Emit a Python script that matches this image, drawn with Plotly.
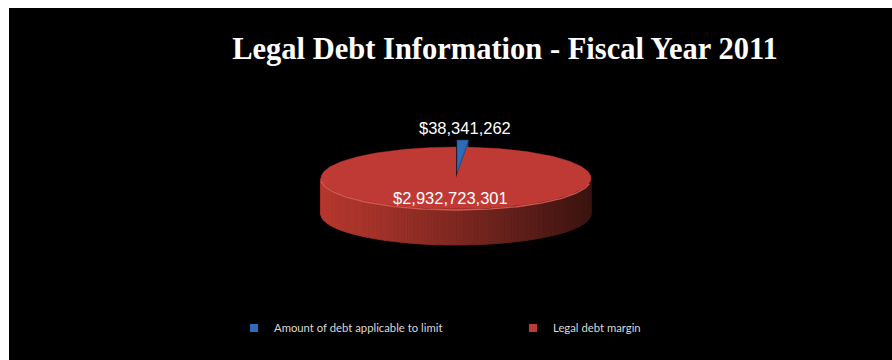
import numpy as np
import plotly.graph_objects as go

# Legal debt figures, fiscal year 2011
categories = ["Amount of debt applicable to limit", "Legal debt margin"]
amounts = [38341262, 2932723301]
top_colors = ["#2E6BB8", "#C03A35"]
explode = [0.22, 0.0]

title_text = "Legal Debt Information - Fiscal Year 2011"

# Pie geometry in pixel-like axis units (x right, y down)
CX, CY = 456.0, 178.0
RX, RY = 135.0, 31.0
DEPTH = 36.0

total = float(sum(amounts))
fracs = [a / total for a in amounts]
starts = np.cumsum([0.0] + fracs[:-1]) * 2 * np.pi
ends = np.cumsum(fracs) * 2 * np.pi


def rim(theta, cx, cy):
    return cx + RX * np.sin(theta), cy - RY * np.cos(theta)


def offset(i):
    mid = (starts[i] + ends[i]) / 2
    return (CX + explode[i] * RX * np.sin(mid), CY - explode[i] * RY * np.cos(mid))


def blend(c1, c2, t):
    a = [int(c1[k:k + 2], 16) for k in (1, 3, 5)]
    b = [int(c2[k:k + 2], 16) for k in (1, 3, 5)]
    return "#" + "".join(f"{int(round(a[j] + (b[j] - a[j]) * t)):02x}" for j in range(3))


def poly(xs, ys, color, lw=0.6):
    return go.Scatter(
        x=list(xs) + [xs[0]], y=list(ys) + [ys[0]], mode="lines", fill="toself",
        fillcolor=color, line=dict(width=lw, color=color),
        hoverinfo="skip", showlegend=False,
    )


fig = go.Figure()

# small slice: cut face and top
bx, by = offset(0)
ex, ey = rim(ends[0], bx, by)
fig.add_trace(poly([bx, ex, ex, bx], [by, ey, ey + DEPTH, by + DEPTH], "#1E426F"))
th = np.linspace(starts[0], ends[0], 12)
px, py = rim(th, bx, by)
fig.add_trace(poly([bx] + list(px), [by] + list(py), top_colors[0]))

# large slice: shaded front wall in thin vertical strips
rx0, ry0 = offset(1)
lo = max(starts[1], np.pi / 2)
hi = min(ends[1], 3 * np.pi / 2)
edges = np.linspace(lo, hi, 121)
for a, b in zip(edges[:-1], edges[1:]):
    th = np.linspace(a, b, 3)
    sx, sy = rim(th, rx0, ry0)
    xm = float(np.mean(sx))
    t = (xm - (rx0 - RX)) / (2 * RX)
    col = blend("#B8392F", "#3C1411", t ** 1.1)
    fig.add_trace(poly(list(sx) + list(sx[::-1]), list(sy) + list((sy + DEPTH)[::-1]), col, lw=0.8))

# large slice: top face
th = np.linspace(starts[1], ends[1], 240)
px, py = rim(th, rx0, ry0)
fig.add_trace(poly([rx0] + list(px), [ry0] + list(py), top_colors[1], lw=0.4))

# light edge along the front rim of the top face
th = np.linspace(np.pi * 0.55, np.pi * 1.48, 120)
hx, hy = rim(th, rx0, ry0)
fig.add_trace(go.Scatter(x=hx, y=hy + 1, mode="lines", line=dict(color="#D2574F", width=1.3),
                         hoverinfo="skip", showlegend=False))

# legend entries
for name, col in zip(categories, top_colors):
    fig.add_trace(go.Scatter(x=[None], y=[None], mode="markers", name=name,
                             marker=dict(symbol="square", size=8, color=col,
                                         line=dict(width=0))))

# value labels
lx, ly = rim((starts[0] + ends[0]) / 2, bx, by)
fig.add_annotation(x=lx + 2, y=ly - 12, text=f"${amounts[0]:,}", showarrow=False,
                   xref="x", yref="y", font=dict(family="Liberation Sans", size=16.5, color="white"))
fig.add_annotation(x=rx0 - 6, y=ry0 + 20, text=f"${amounts[1]:,}", showarrow=False,
                   xref="x", yref="y", font=dict(family="Liberation Sans", size=16.5, color="white"))

fig.update_layout(
    width=892, height=360,
    margin=dict(l=9, r=0, t=8, b=0),
    paper_bgcolor="white", plot_bgcolor="black",
    title=dict(text=f"<b>{title_text}</b>", x=505 / 892, xanchor="center",
               y=1 - 48 / 360, yanchor="middle",
               font=dict(family="Liberation Serif", size=30.5, color="white")),
    xaxis=dict(range=[9, 892], visible=False, fixedrange=True),
    yaxis=dict(range=[360, 8], visible=False, fixedrange=True),
    legend=dict(orientation="h", x=(234 - 9) / 883, xanchor="left", y=(360 - 328) / 352,
                yanchor="middle", bgcolor="rgba(0,0,0,0)", entrywidth=234, entrywidthmode="pixels",
                font=dict(family="Lato", size=11.3, color="#D9D9D9"), itemwidth=30),
    showlegend=True,
)

fig.write_html("out.html")
